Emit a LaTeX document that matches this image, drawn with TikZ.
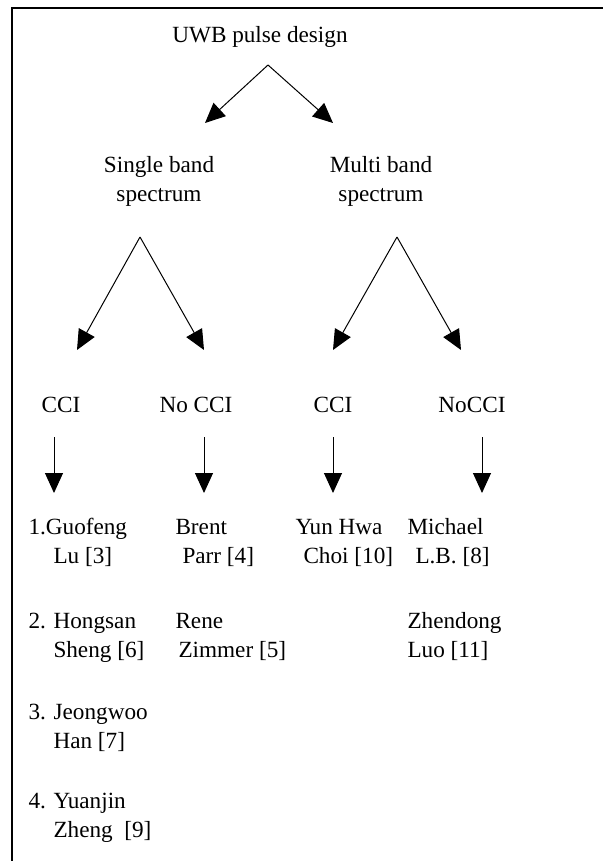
\documentclass[tikz,border=0pt]{standalone}
\usepackage{fontspec}
\setmainfont{Liberation Serif}
\usetikzlibrary{arrows.meta}

\begin{document}
\begin{tikzpicture}[x=0.5pt,y=-0.5pt,
        font={\fontsize{11.6}{14.5}\selectfont},
        line width=0.5pt,
        >={Triangle[length=10pt,width=9pt]},
        label/.style={anchor=base,inner sep=0pt},
        author/.style={anchor=base west,align=left,inner sep=0pt}]
        \useasboundingbox (0,0) rectangle (603,861);
        
        % frame (only top and left edges show)
        \draw[line width=0.7pt] (12,861) -- (12,8) -- (603,8);
        
        % two-line nodes sit on the baseline of their last line
        \node[label] (root) at (260,43) {UWB pulse design};
        \node[label,align=center] (single) at (159,202) {Single band\\spectrum};
        \node[label,align=center] (multi) at (381,202) {Multi band\\spectrum};
        
        % forks
        \coordinate (rootfork) at (268,65);
        \coordinate (rootL) at (205,123);
        \coordinate (rootR) at (333,123);
        \draw[->] (rootfork) -- (rootL);
        \draw[->] (rootfork) -- (rootR);
        
        \coordinate (singlefork) at (140,237);
        \coordinate (singleL) at (77,350);
        \coordinate (singleR) at (204,350);
        \draw[->] (singlefork) -- (singleL);
        \draw[->] (singlefork) -- (singleR);
        
        \coordinate (multifork) at (397,237);
        \coordinate (multiL) at (333,350);
        \coordinate (multiR) at (461,350);
        \draw[->] (multifork) -- (multiL);
        \draw[->] (multifork) -- (multiR);
        
        \node[label] (sccI) at (61,412) {CCI};
        \node[label] (snocci) at (196,412) {No CCI};
        \node[label] (mcci) at (333,412) {CCI};
        \node[label] (mnocci) at (472,412) {NoCCI};
        
        \foreach \n/\x in {sccI/54,snocci/204,mcci/333,mnocci/482}{
            \coordinate (\n top) at (\x,437);
            \coordinate (\n end) at (\x,493);
            \draw[->] (\n top) -- (\n end);
        }
        
        % references
        \node[author] (lu) at (28,563) {1.Guofeng\\\hspace*{12.5pt}Lu [3]};
        \node[author] (sheng) at (28,657) {2. Hongsan\\\hspace*{12.5pt}Sheng [6]};
        \node[author] (han) at (28,748) {3. Jeongwoo\\\hspace*{12.5pt}Han [7]};
        \node[author] (zheng) at (28,837) {4. Yuanjin\\\hspace*{12.5pt}Zheng\ \ [9]};
        
        \node[author] (parr) at (175,563) {Brent\\\hspace*{3.5pt}Parr [4]};
        \node[author] (zimmer) at (175,657) {Rene\\\hspace*{1.5pt}Zimmer [5]};
        
        \node[author] (choi) at (295,563) {Yun Hwa\\\hspace*{4pt}Choi [10]};
        
        \node[author] (lb) at (407,563) {Michael\\\hspace*{4pt}L.B. [8]};
        \node[author] (luo) at (407,657) {Zhendong\\Luo [11]};
\end{tikzpicture}
\end{document}
